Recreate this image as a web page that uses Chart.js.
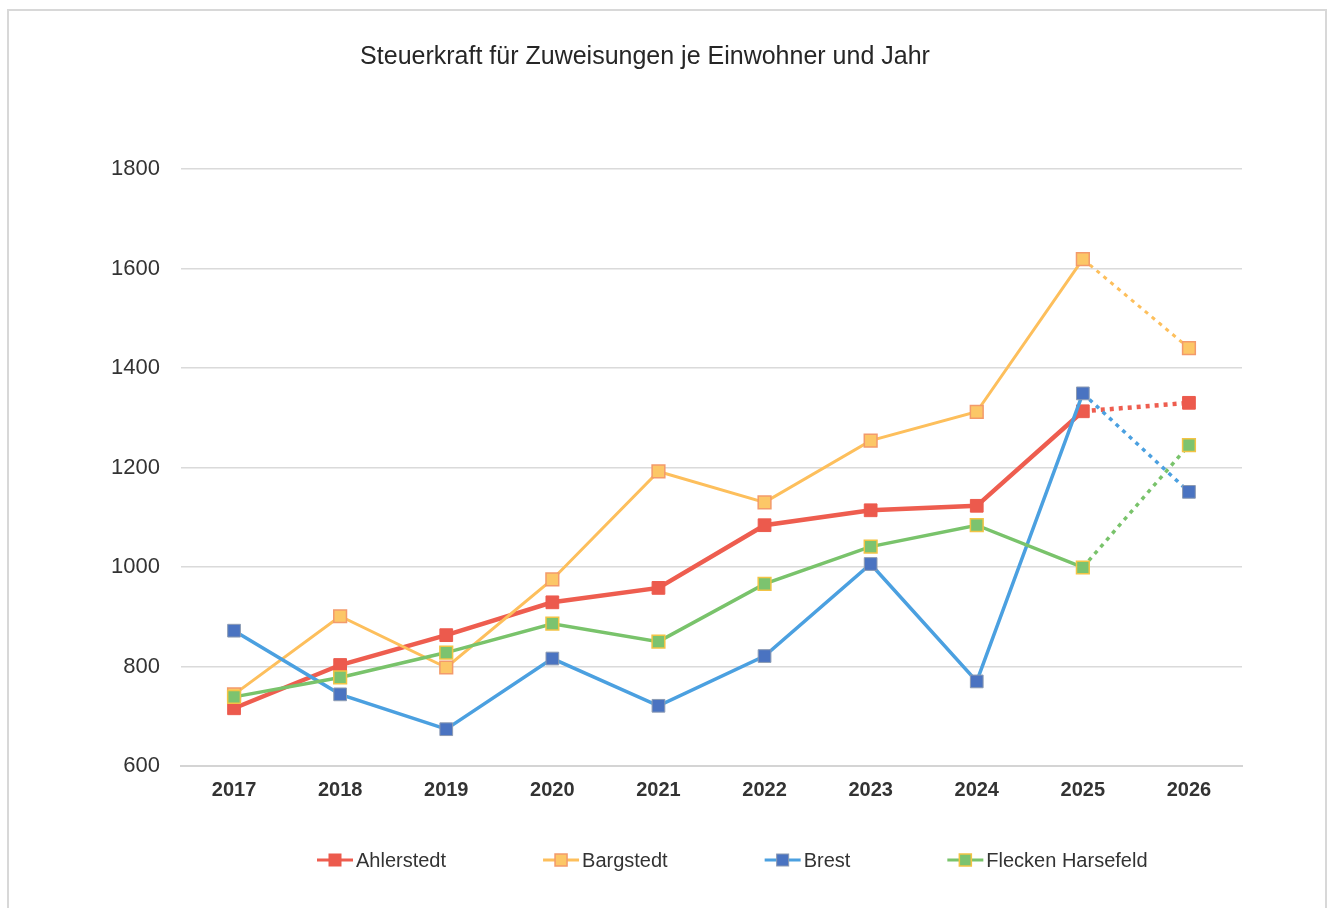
<!DOCTYPE html>
<html lang="de">
<head>
<meta charset="utf-8">
<title>Steuerkraft für Zuweisungen je Einwohner und Jahr</title>
<script src="https://cdn.jsdelivr.net/npm/chart.js@4.4.0/dist/chart.umd.min.js"></script>
<style>
  body { margin: 0; background: #fff; }
  #wrap { position: relative; width: 1330px; height: 908px; overflow: hidden; }
  #frame { position: absolute; left: 7px; top: 9px; width: 1320px; height: 940px; border: 2px solid #d8d8d8; box-sizing: border-box; pointer-events: none; }
</style>
</head>
<body>
<div id="wrap">
  <canvas id="taxChart" width="1330" height="908"></canvas>
  <div id="frame"></div>
</div>
<script>
  // values
  const years = ["2017", "2018", "2019", "2020", "2021", "2022", "2023", "2024", "2025", "2026"];
  const ahlerstedt = [716, 803, 863, 929, 958, 1084, 1114, 1123, 1313, 1330];
  const bargstedt = [744, 901, 798, 975, 1192, 1130, 1254, 1312, 1619, 1440];
  const brest = [872, 744, 674, 816, 721, 821, 1006, 770, 1349, 1151];
  const harsefeld = [739, 778, 828, 886, 850, 966, 1041, 1084, 999, 1245];
  const yMin = 600, yMax = 1800, yStep = 200;
  const forecastFrom = years.indexOf("2025");   // dotted line from here on

  const FONT = '"Liberation Sans", Arial, sans-serif';

  function series(label, data, line, fill, edge, edgeWidth, width, order) {
    return {
      label: label,
      data: data,
      borderColor: line,
      borderWidth: width,
      pointStyle: "rect",
      pointRadius: 9,
      pointHoverRadius: 9,
      pointBackgroundColor: fill,
      pointBorderColor: edge,
      pointBorderWidth: edgeWidth,
      tension: 0,
      order: order,
      segment: {
        borderDash: ctx => ctx.p0DataIndex >= forecastFrom ? [4, 5] : undefined
      }
    };
  }

  // legend with a little line + marker, like the office chart
  const lineLegend = {
    id: "lineLegend",
    afterDraw(chart) {
      const ctx = chart.ctx;
      const y = chart.chartArea.bottom + 94;
      let x = chart.chartArea.left + 136;
      ctx.save();
      ctx.font = "20px " + FONT;
      ctx.textBaseline = "middle";
      chart.data.datasets.forEach(ds => {
        ctx.setLineDash([]);
        ctx.strokeStyle = ds.borderColor;
        ctx.lineWidth = 3;
        ctx.beginPath();
        ctx.moveTo(x, y);
        ctx.lineTo(x + 36, y);
        ctx.stroke();
        ctx.fillStyle = ds.pointBackgroundColor;
        ctx.fillRect(x + 12, y - 6, 12, 12);
        ctx.strokeStyle = ds.pointBorderColor;
        ctx.lineWidth = ds.pointBorderWidth;
        ctx.strokeRect(x + 12, y - 6, 12, 12);
        ctx.fillStyle = "#333333";
        ctx.fillText(ds.label, x + 39, y + 1);
        x += 39 + ctx.measureText(ds.label).width + 97;
      });
      ctx.restore();
    }
  };

  const ctx = document.getElementById("taxChart").getContext("2d");
  new Chart(ctx, {
    type: "line",
    data: {
      labels: years,
      datasets: [
        series("Ahlerstedt", ahlerstedt, "#ee5d4f", "#ec5a4d", "#ec5a4d", 1, 4.5, 3),
        series("Bargstedt", bargstedt, "#fdbf5c", "#fcc767", "#f39a6b", 1.5, 3, 2),
        series("Brest", brest, "#4ba0e0", "#4a73c1", "#8c9bb3", 1, 3.5, 1),
        series("Flecken Harsefeld", harsefeld, "#79c36b", "#7cc36f", "#f2c445", 1.5, 3.5, 0)
      ]
    },
    options: {
      responsive: false,
      devicePixelRatio: 1,
      animation: false,
      layout: { padding: { left: 48, right: 88, top: 0, bottom: 92 } },
      plugins: {
        legend: { display: false },
        tooltip: { enabled: false },
        title: {
          display: true,
          text: "Steuerkraft für Zuweisungen je Einwohner und Jahr",
          color: "#262626",
          font: { family: FONT, size: 25, weight: "normal" },
          padding: { top: 42, bottom: 97 }
        }
      },
      scales: {
        x: {
          offset: true,
          grid: { display: false, drawTicks: false },
          border: { display: true, color: "#d4d4d4", width: 2 },
          ticks: {
            color: "#333333",
            padding: 12,
            font: { family: FONT, size: 20, weight: "bold" }
          },
          afterFit: s => { s.height = 50; }
        },
        y: {
          min: yMin,
          max: yMax,
          grid: { color: "#dadada", lineWidth: 1.5, drawTicks: false },
          border: { display: false },
          ticks: {
            stepSize: yStep,
            color: "#333333",
            padding: 21,
            font: { family: FONT, size: 22 },
            callback: v => String(v)
          },
          afterFit: s => { s.width = 133; }
        }
      }
    },
    plugins: [lineLegend]
  });
</script>
</body>
</html>
